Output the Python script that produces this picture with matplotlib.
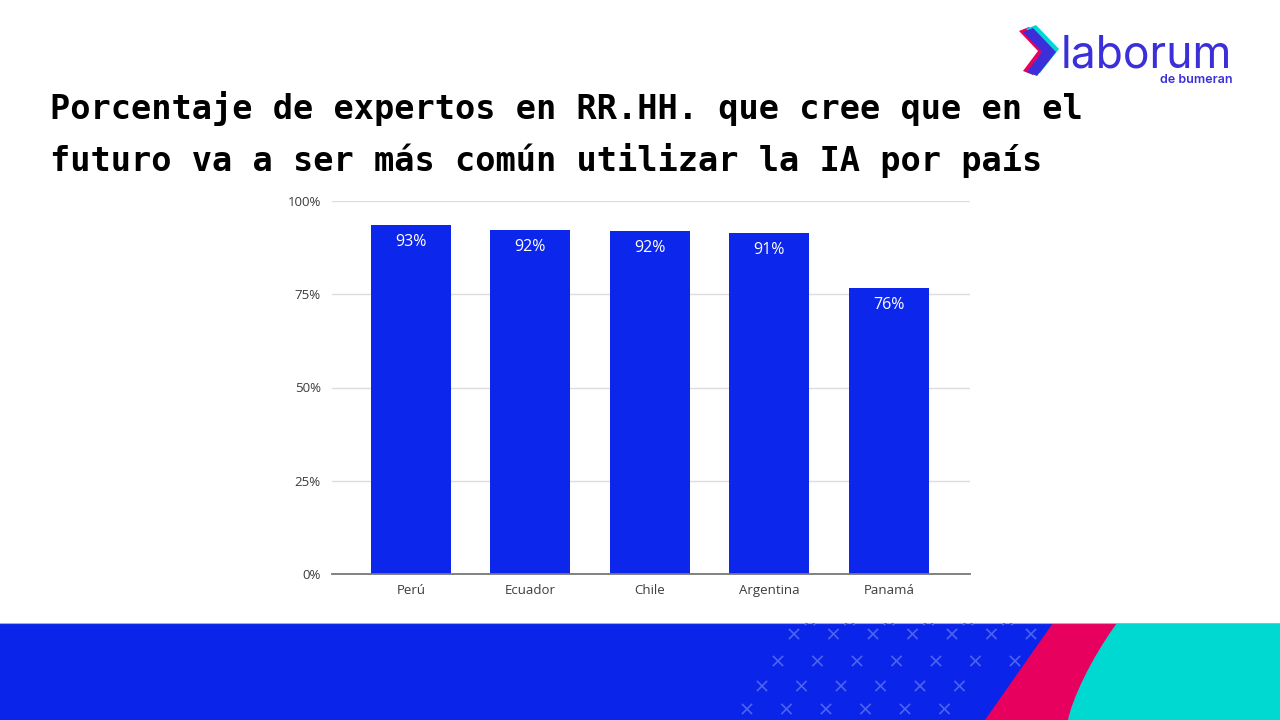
import matplotlib
matplotlib.use("Agg")
import matplotlib.pyplot as plt
from matplotlib.patches import Polygon, Rectangle, PathPatch
from matplotlib.path import Path

paises = ["Perú", "Ecuador", "Chile", "Argentina", "Panamá"]
porcentajes = [93.6, 92.2, 92.0, 91.4, 76.7]
etiquetas = ["93%", "92%", "92%", "91%", "76%"]
yticks = [0, 25, 50, 75, 100]
ytick_labels = ["0%", "25%", "50%", "75%", "100%"]

titulo_1 = "Porcentaje de expertos en RR.HH. que cree que en el"
titulo_2 = "futuro va a ser más común utilizar la IA por país"

AZUL = "#0b24ea"
BARRA = "#0d26ec"
LOGO = "#3a2fd8"

fig = plt.figure(figsize=(12.8, 7.2), dpi=100)
fig.patch.set_facecolor("white")

# decoration layer in pixel coordinates
bg = fig.add_axes([0, 0, 1, 1], zorder=0)
bg.set_xlim(0, 1280)
bg.set_ylim(720, 0)
bg.axis("off")

# bottom band
band = Rectangle((0, 623), 1280, 97, color=AZUL, lw=0)
bg.add_patch(band)
bg.plot([0, 1280], [623, 623], color="#a9aed0", lw=0.8)


def pink_edge(y):
    return 1053 - 68 * (y - 623) / 97


for y, x0 in zip([620, 634, 661, 686, 709], [810, 794, 778, 762, 747]):
    for c in range(8):
        x = x0 + 39.5 * c
        if x > pink_edge(y) - 10:
            continue
        for dy in (4.5, -4.5):
            ln, = bg.plot([x - 4.5, x + 4.5], [y - dy, y + dy], color="#4d64ef", lw=1.2)
            ln.set_clip_path(band)
bg.add_patch(Polygon([(1053, 623), (1125, 623), (1070, 720), (985, 720)],
                     closed=True, color="#e8005f", lw=0))
cyan = Path([(1117, 623), (1090, 660), (1072, 700), (1068, 720),
             (1280, 720), (1280, 623), (1117, 623)],
            [Path.MOVETO, Path.CURVE4, Path.CURVE4, Path.CURVE4,
             Path.LINETO, Path.LINETO, Path.CLOSEPOLY])
bg.add_patch(PathPatch(cyan, color="#00d9d2", lw=0))

# logo
def chevron(dx, dy, color):
    pts = [(1022, 31), (1032, 27), (1055, 51), (1036, 75), (1026, 71), (1041, 51)]
    bg.add_patch(Polygon([(px + dx, py + dy) for px, py in pts], closed=True,
                         color=color, lw=0))


chevron(-3, 0, "#e8005f")
chevron(4, -2, "#00d9d2")
chevron(1, 1, LOGO)
bg.text(1061, 67, "laborum", fontsize=32, family="Inter", color=LOGO,
        ha="left", va="baseline")
bg.text(1233, 83, "de bumeran", fontsize=9, family="Inter", weight="semibold",
        color=LOGO, ha="right", va="baseline")

# title
for yy, linea in zip([119, 171], [titulo_1, titulo_2]):
    bg.text(50, yy, linea, fontsize=24.2, family="DejaVu Sans Mono", weight="bold",
            color="black", ha="left", va="baseline")

# chart
ax = fig.add_axes([332 / 1280, 1 - 574 / 720, 638 / 1280, 373 / 720], zorder=1)
ax.patch.set_alpha(0)
x = range(len(paises))
bars = ax.bar(x, porcentajes, width=0.67, color=BARRA, zorder=2)
for b, lab in zip(bars, etiquetas):
    ax.text(b.get_x() + b.get_width() / 2, b.get_height() - 4.6, lab,
            ha="center", va="center", color="white", fontsize=11.5, family="Open Sans")
ax.set_xlim(-0.66, 4.68)
ax.set_ylim(0, 100)
ax.set_yticks(yticks)
ax.set_yticklabels(ytick_labels, family="Open Sans", fontsize=9.5, color="#3c3c3c")
ax.set_xticks(list(x))
ax.set_xticklabels(paises, family="Open Sans", fontsize=9.5, color="#3c3c3c")
ax.tick_params(length=0, pad=7)
ax.tick_params(axis="y", pad=8)
ax.yaxis.grid(True, color="#dddddd", lw=1)
ax.set_axisbelow(True)
for s in ["top", "right", "left"]:
    ax.spines[s].set_visible(False)
ax.spines["bottom"].set_color("#777777")
ax.spines["bottom"].set_linewidth(1.3)
ax.spines["bottom"].set_zorder(3)

fig.savefig("out.png", dpi=100)
